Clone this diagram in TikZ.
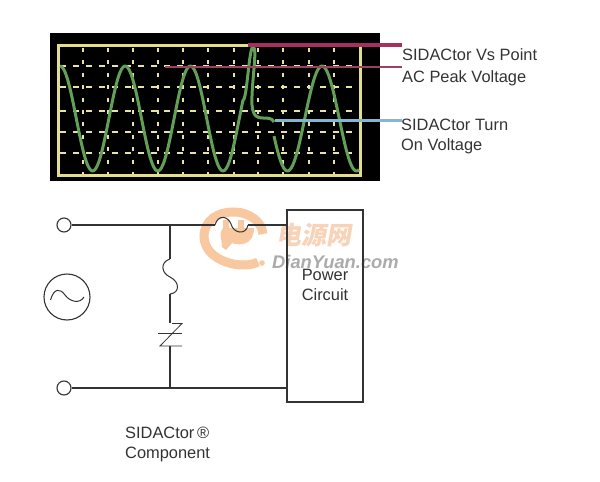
\documentclass[tikz,border=0pt]{standalone}
\usepackage{fontspec}
\setmainfont{Liberation Sans}
\newfontfamily\cjkwm[FakeSlant=0.18]{Noto Sans CJK SC}
\definecolor{scope}{HTML}{E4DD8E}
\definecolor{gridc}{HTML}{E9E2A8}
\definecolor{trace}{HTML}{62A058}
\definecolor{crim}{HTML}{A5305F}
\definecolor{crimthin}{HTML}{A04060}
\definecolor{bluel}{HTML}{82B6D2}
\definecolor{wm}{HTML}{F8C8A0}
\definecolor{wmt}{HTML}{F9D3B8}
\definecolor{wmg}{HTML}{ABABAB}
\definecolor{ink}{HTML}{333333}
\tikzset{
  lbl/.style={font=\fontsize{16.4}{20}\selectfont,text=ink,inner sep=0pt,align=left},
  wire/.style={draw=ink,line width=1.1pt},
  term/.style={circle,draw=ink,line width=1.1pt,minimum size=14pt,inner sep=0pt},
  vgrid/.style={draw=gridc,line width=2.4pt,dash pattern=on 4pt off 8.4pt},
  hgrid/.style={draw=gridc,line width=2.4pt,dash pattern=on 6pt off 7pt},
}
\begin{document}
\begin{tikzpicture}[x=1pt,y=-1pt]
\useasboundingbox (0,0) rectangle (600,482);
\fill[white] (0,0) rectangle (600,482);
% oscilloscope
\fill[black] (50,33) rectangle (380,181);
\foreach \gx in {83,108,133,158,183,208,234,258,283,309,334}
  \draw[vgrid] (\gx,48) -- (\gx,174);
\foreach \gy in {66,87,111,132,153}
  \draw[hgrid] (60,\gy) -- (358,\gy);
\draw[scope,line width=3pt] (58,45) rectangle (360,175);
% trace
\draw[trace,line width=3pt,line join=round]
  plot[domain=60:243,samples=120,smooth] (\x,{118.5-52.5*cos((\x-60)*5.5215)})
  .. controls (247,100) and (249,47) .. (253,47)
  .. controls (258,47) and (251,85) .. (252,105)
  .. controls (253,117) and (258,118) .. (263,118)
  .. controls (268,118) and (272,118) .. (274,122);
\draw[trace,line width=3pt,line join=round]
  plot[domain=274:359,samples=70,smooth] (\x,{118.5-52.5*cos((\x-322)*5.2174)});
% labels and leaders
\node[lbl,anchor=west] (l1) at (402,55) {SIDACtor Vs Point};
\node[lbl,anchor=west] (l2) at (402,78) {AC Peak Voltage};
\node[lbl,anchor=west,align=left] (l3) at (401,136.5) {SIDACtor Turn\\On Voltage};
\coordinate (a1) at (248,45);
\coordinate (a1e) at (402,45);
\coordinate (a2) at (165,67);
\coordinate (a2e) at (402,67);
\coordinate (a3) at (275,120.5);
\coordinate (a3e) at (402,120.5);
\draw[crim,line width=3.2pt] (a1) -- (a1e);
\draw[crimthin,line width=1.2pt] (a2) -- (a2e);
\draw[bluel,line width=2.8pt] (a3) -- (a3e);
% watermark
\draw[wm,line width=9pt] (258,262) .. controls (243,270) and (205,262) .. (204,237)
  .. controls (204,220) and (218,212) .. (233,212)
  .. controls (250,212) and (262,222) .. (263,234);
\fill[wm] (223,220) -- (229,220) -- (229,228) -- (238,228) -- (238,220) -- (244,220) -- (244,228)
  -- (254,228) .. controls (254,245) and (240,246) .. (232,243) -- (226,250) -- (222,247)
  .. controls (222,238) and (218,235) .. (223,228) -- cycle;
\node[inner sep=0pt,anchor=west,text=wmt] (wmcn) at (276,235.5)
  {\cjkwm\fontsize{25}{25}\selectfont\bfseries 电源网};
\fill[wm] (262,263) circle (2.8pt);
\node[inner sep=0pt,anchor=west,text=wmg] (wmen) at (272,262)
  {\fontsize{18.3}{18.3}\selectfont\bfseries\itshape DianYuan.com};
% circuit
\node[term] (t1) at (64,225) {};
\node[term] (t2) at (64,388) {};
\node[draw=ink,line width=1.1pt,minimum width=76pt,minimum height=192pt,inner sep=0pt] (box) at (325,306) {};
\node[lbl,align=center] (pc) at (325,285) {Power\\Circuit};
\node[circle,draw=ink,line width=1.1pt,minimum size=46pt,inner sep=0pt] (src) at (67,297) {};
\draw[ink,line width=1pt] (50.5,300) .. controls (54,288) and (60,288) .. (65,295)
  .. controls (70,302) and (80,304) .. (84,297);
\coordinate (jt) at (170,225);
\coordinate (jb) at (170,388);
\coordinate (f1a) at (215,225);
\coordinate (f1b) at (248,225);
\coordinate (bt) at (287,225);
\coordinate (bb) at (287,388);
\draw[wire] (t1) -- (jt) -- (f1a);
\draw[ink,line width=1pt] (f1a) .. controls (218,214) and (228,216) .. (231,224)
  .. controls (233,233) and (246,236) .. (f1b);
\draw[wire] (f1b) -- (bt);
\draw[wire] (t2) -- (jb) -- (bb);
\coordinate (f2a) at (170,259);
\coordinate (f2b) at (170,294);
\coordinate (ztop) at (170,323);
\coordinate (zbot) at (170,346);
\draw[wire] (jt) -- (f2a);
\draw[ink,line width=1pt] (f2a) .. controls (160,262) and (161,273) .. (170,277)
  .. controls (180,282) and (180,293) .. (f2b);
\draw[wire] (f2b) -- (ztop);
\draw[wire] (zbot) -- (jb);
\draw[ink,line width=0.8pt] (172,323.5) -- (182,323.5) -- (160,346) -- (182,346);
\draw[ink,line width=0.8pt] (158,333.5) -- (182,333.5);
\node[lbl,anchor=west,align=left] (cmp) at (125,444) {SIDACtor\,®\\Component};
\end{tikzpicture}
\end{document}
